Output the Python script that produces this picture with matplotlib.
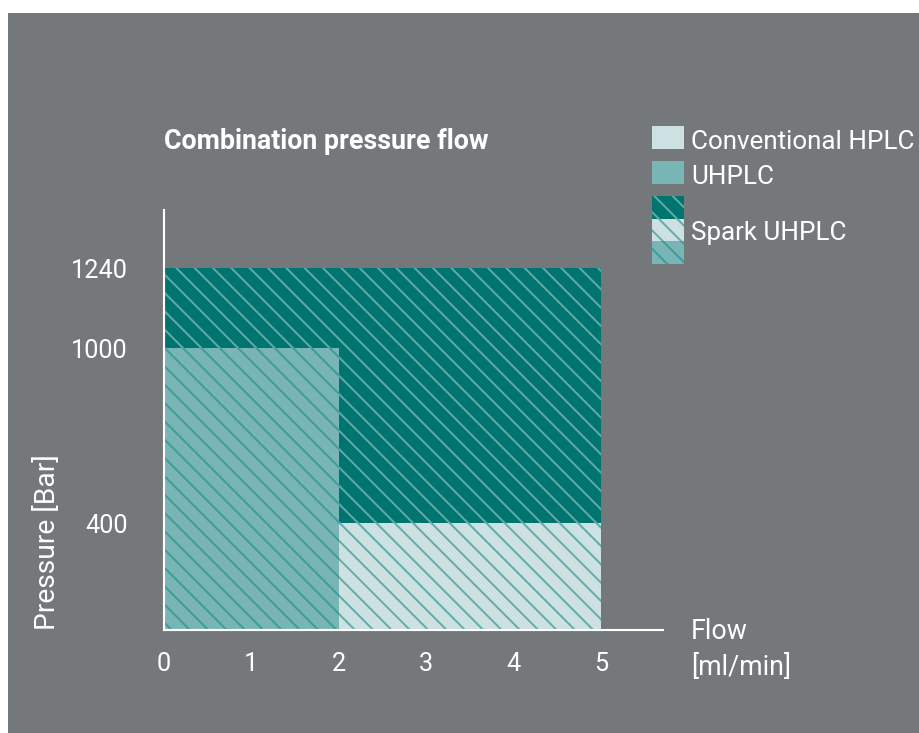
import matplotlib
matplotlib.use("Agg")
import matplotlib.pyplot as plt
import numpy as np
from matplotlib.patches import Rectangle

# data
systems = ["Spark UHPLC", "Conventional HPLC", "UHPLC"]
flow_max = [5, 5, 2]            # ml/min
pressure_max = [1240, 400, 1000]  # bar
x_ticks = [0, 1, 2, 3, 4, 5]
y_ticks = [400, 1000, 1240]

# the pressure axis in the source is schematic, not linear
y_scale_values = [0, 400, 1000, 1240, 2480]
y_scale_span = [0, 107, 282, 362, 775]

BG = "#74787b"
FILL = {"Spark UHPLC": "#00756f", "Conventional HPLC": "#cde1e2", "UHPLC": "#79b5b5"}
HATCH = {"Spark UHPLC": "#62a9a7", "Conventional HPLC": "#63acaa", "UHPLC": "#3f9c9a"}
HATCH_PATTERN = "\\\\"

DPI = 110
W, H = 919, 733

plt.rcParams["font.family"] = ["Roboto", "DejaVu Sans"]
plt.rcParams["hatch.linewidth"] = 1.3

fig = plt.figure(figsize=((W + 0.4) / DPI, (H + 0.4) / DPI), dpi=DPI, facecolor="white")


def fig_box(x0, y0, x1, y1):
    # pixel box measured from the top-left corner -> figure fraction
    return x0 / W, 1 - y1 / H, (x1 - x0) / W, (y1 - y0) / H


bx, by, bw, bh = fig_box(8, 13, W, H)
fig.add_artist(Rectangle((bx, by), bw, bh, transform=fig.transFigure,
                         facecolor=BG, edgecolor="none", zorder=-10))

ax = fig.add_axes(fig_box(164, 210, 663, 630))
ax.set_facecolor("none")


def fwd(v):
    return np.interp(v, y_scale_values, y_scale_span)


def inv(s):
    return np.interp(s, y_scale_span, y_scale_values)


ax.set_yscale("function", functions=(fwd, inv))

for name, fx, py in zip(systems, flow_max, pressure_max):
    ax.bar(0, py, width=fx, align="edge", color=FILL[name], edgecolor=HATCH[name],
           linewidth=0, hatch=HATCH_PATTERN)

ax.set_xlim(0, 5.71)
ax.set_ylim(0, 1414)
ax.set_xticks(x_ticks)
ax.set_xticklabels([str(t) for t in x_ticks])
ax.set_yticks(y_ticks)
ax.set_yticklabels([str(t) for t in y_ticks])
ax.yaxis.set_minor_locator(matplotlib.ticker.NullLocator())

for side in ["top", "right"]:
    ax.spines[side].set_visible(False)
for side in ["left", "bottom"]:
    ax.spines[side].set_color("white")
    ax.spines[side].set_linewidth(1.4)
    ax.spines[side].set_zorder(5)

ax.tick_params(axis="x", length=0, pad=14, labelsize=16.5, labelcolor="white")
ax.tick_params(axis="y", length=0, pad=24, labelsize=16.5, labelcolor="white")
for lbl in ax.get_xticklabels():
    lbl.set_x(lbl.get_position()[0])

ax.set_title("Combination pressure flow", loc="left", pad=40, fontsize=17.5,
             fontweight="bold", color="white")

ax.text(1.055, 0.03, "Flow\n[ml/min]", transform=ax.transAxes, ha="left", va="top",
        fontsize=17.5, color="white", linespacing=1.45)
ax.text(-0.2345, 0.0, "Pressure [Bar]", transform=ax.transAxes, rotation=90,
        ha="center", va="bottom", fontsize=18.5, color="white")

# legend, drawn by hand because the Spark swatch stacks three fills
legend_rows = [
    ("Conventional HPLC", [("Conventional HPLC", 126, 149)], 149),
    ("UHPLC", [("UHPLC", 161, 184)], 184),
    ("Spark UHPLC", [("Spark UHPLC", 196, 219), ("Conventional HPLC", 219, 241),
                     ("UHPLC", 241, 264)], 240),
]
for label, swatches, baseline in legend_rows:
    hatched = label == "Spark UHPLC"
    for key, y0, y1 in swatches:
        sx, sy, sw, sh = fig_box(652, y0, 684, y1)
        fig.add_artist(Rectangle((sx, sy), sw, sh, transform=fig.transFigure,
                                 facecolor=FILL[key], edgecolor=HATCH[key], linewidth=0,
                                 hatch=HATCH_PATTERN if hatched else None))
    fig.text(691 / W, 1 - baseline / H, label, ha="left", va="baseline",
             fontsize=17, color="white")

fig.savefig("out.png", dpi=DPI, facecolor=fig.get_facecolor())
